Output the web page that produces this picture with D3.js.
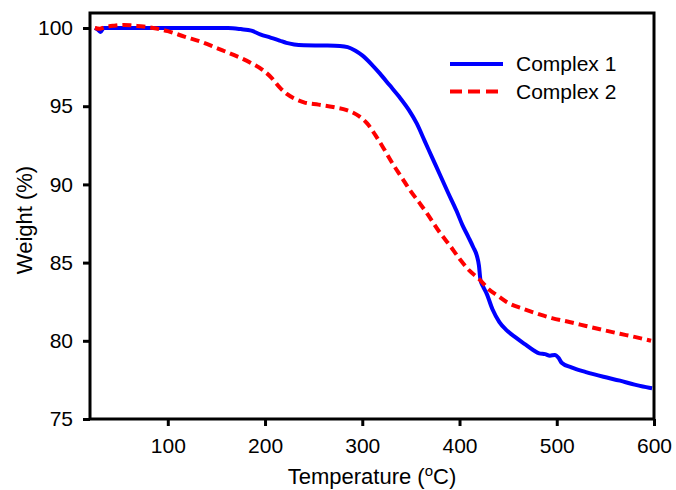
<!DOCTYPE html>
<html>
<head>
<meta charset="utf-8">
<script src="https://cdn.jsdelivr.net/npm/d3@7"></script>
<style>
  html, body { margin: 0; padding: 0; background: #fff; }
  svg { display: block; font-family: Arial, "Liberation Sans", sans-serif; }
</style>
</head>
<body>
<svg id="chart" width="676" height="490"></svg>
<script>
// ---- Data ----
const seriesNames = ["Complex 1", "Complex 2"];
const seriesColors = ["#0000ff", "#ff0000"];

const c1Temp = [25, 28, 31, 34, 60, 100, 140, 162, 175, 186, 195, 205, 215, 222, 230, 240, 260, 277, 285, 293, 300, 310, 318, 328, 338, 348, 356, 364, 372, 380, 388, 397, 403, 409, 414, 418, 420, 421.5, 424, 428, 434, 441, 448, 458, 468, 476, 482, 488, 493, 498, 502, 505, 515, 530, 548, 565, 580, 595, 598];
const c1Weight = [100.0, 99.9, 99.75, 100.0, 100.0, 100.0, 100.0, 100.0, 99.93, 99.83, 99.6, 99.4, 99.2, 99.05, 98.95, 98.9, 98.88, 98.85, 98.78, 98.55, 98.25, 97.65, 97.1, 96.35, 95.6, 94.75, 93.9, 92.8, 91.7, 90.6, 89.5, 88.3, 87.4, 86.65, 86.0, 85.4, 84.8, 83.9, 83.5, 83.0, 82.0, 81.2, 80.7, 80.2, 79.75, 79.4, 79.2, 79.15, 79.05, 79.1, 78.9, 78.6, 78.3, 78.0, 77.7, 77.45, 77.2, 77.0, 76.97];

const c2Temp = [25, 30, 35, 45, 55, 65, 75, 85, 100, 117, 135, 151, 165, 186, 198, 207, 215, 222, 230, 240, 255, 270, 284, 297, 305, 314, 322, 331, 340, 349, 359, 366, 380, 390, 400, 410, 421, 430, 440, 448, 465, 479, 495, 513, 530, 547, 565, 580, 597];
const c2Weight = [100.0, 99.95, 100.05, 100.15, 100.2, 100.15, 100.1, 100.0, 99.8, 99.45, 99.1, 98.7, 98.35, 97.75, 97.3, 96.8, 96.2, 95.8, 95.5, 95.25, 95.1, 94.95, 94.75, 94.35, 93.9, 93.1, 92.3, 91.35, 90.5, 89.64, 88.8, 88.2, 86.9, 86.1, 85.25, 84.5, 83.9, 83.3, 82.85, 82.5, 82.05, 81.76, 81.45, 81.2, 80.95, 80.7, 80.45, 80.25, 80.0];

const xTicks = [100, 200, 300, 400, 500, 600];
const yTicks = [75, 80, 85, 90, 95, 100];
const xTitle = "Temperature (";
const yTitle = "Weight (%)";

// ---- Layout ----
const svg = d3.select("#chart");
const mLeft = 90, mRight = 654, mTop = 13, mBottom = 419;

const x = d3.scaleLinear().domain([20, 600]).range([mLeft, mRight]);
const y = d3.scaleLinear().domain([75, 100.96]).range([mBottom, mTop]);

const series = [
  { name: seriesNames[0], color: seriesColors[0], dash: null, pts: c1Temp.map((t, i) => [t, c1Weight[i]]) },
  { name: seriesNames[1], color: seriesColors[1], dash: "9,5", pts: c2Temp.map((t, i) => [t, c2Weight[i]]) }
];

const line = d3.line().x(d => x(d[0])).y(d => y(d[1])).curve(d3.curveMonotoneX);

// curves
series.forEach(s => {
  svg.append("path")
    .datum(s.pts)
    .attr("fill", "none")
    .attr("stroke", s.color)
    .attr("stroke-width", 4)
    .attr("stroke-linejoin", "round")
    .attr("stroke-dasharray", s.dash)
    .attr("d", line);
});

// axes
const xAxis = svg.append("g")
  .attr("transform", `translate(0,${mBottom})`)
  .call(d3.axisBottom(x).tickValues(xTicks).tickSize(7).tickPadding(12).tickFormat(d3.format("d")));
const yAxis = svg.append("g")
  .attr("transform", `translate(${mLeft},0)`)
  .call(d3.axisLeft(y).tickValues(yTicks).tickSize(7).tickPadding(10).tickFormat(d3.format("d")));

[xAxis, yAxis].forEach(g => {
  g.select(".domain").remove();
  g.selectAll(".tick line").attr("stroke", "#000").attr("stroke-width", 3);
  g.selectAll(".tick text").attr("fill", "#000").style("font-size", "21px").style("font-family", "Arial, 'Liberation Sans', sans-serif");
});

// frame
svg.append("rect")
  .attr("x", mLeft).attr("y", mTop)
  .attr("width", mRight - mLeft).attr("height", mBottom - mTop)
  .attr("fill", "none").attr("stroke", "#000").attr("stroke-width", 3);

// axis titles
const xt = svg.append("text")
  .attr("x", (mLeft + mRight) / 2).attr("y", 484)
  .attr("text-anchor", "middle")
  .style("font-size", "22px").attr("fill", "#000");
xt.append("tspan").text(xTitle);
xt.append("tspan").text("o").attr("dy", -8).style("font-size", "15px");
xt.append("tspan").text("C)").attr("dy", 8);

svg.append("text")
  .attr("transform", `translate(32,220) rotate(-90)`)
  .attr("text-anchor", "middle")
  .style("font-size", "22px").attr("fill", "#000")
  .text(yTitle);

// legend
const legend = svg.append("g");
series.forEach((s, i) => {
  const ly = 64 + i * 27.5;
  legend.append("line")
    .attr("x1", 450).attr("x2", 503).attr("y1", ly).attr("y2", ly)
    .attr("stroke", s.color).attr("stroke-width", 4)
    .attr("stroke-dasharray", s.dash ? "12,6" : null);
  legend.append("text")
    .attr("x", 516).attr("y", ly + 7)
    .style("font-size", "21px").attr("fill", "#000")
    .text(s.name);
});
</script>
</body>
</html>
